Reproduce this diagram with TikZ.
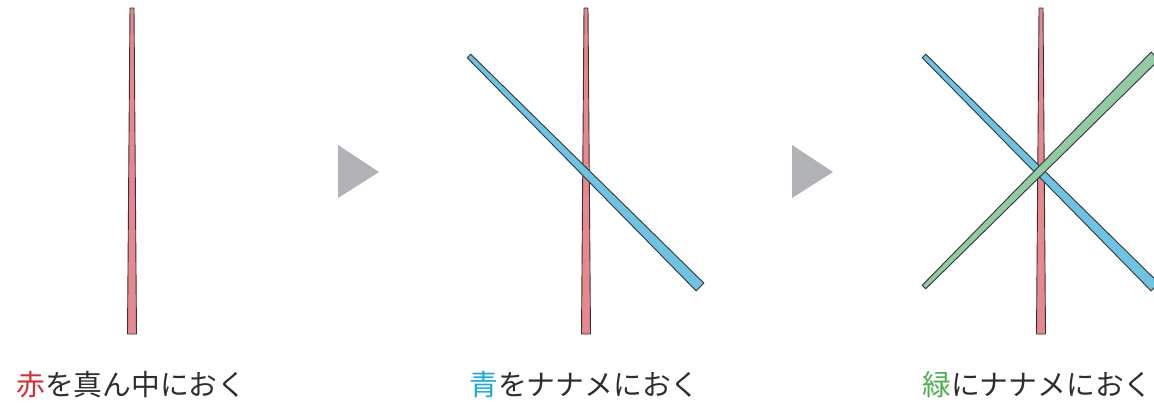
\documentclass[tikz,border=0pt]{standalone}
\usepackage{fontspec}
\setmainfont{Noto Sans CJK JP}
\usetikzlibrary{calc}
\definecolor{stickred}{HTML}{E8878E}
\definecolor{stickblue}{HTML}{6CC4E2}
\definecolor{stickgreen}{HTML}{92CBA3}
\definecolor{markgray}{HTML}{B1B2B6}
\definecolor{textgray}{HTML}{2E2E2E}
\definecolor{wordred}{HTML}{D62E34}
\definecolor{wordblue}{HTML}{1BA9E1}
\definecolor{wordgreen}{HTML}{4DB050}

\begin{document}
\begin{tikzpicture}[x=1pt,y=-1pt,
    stick/.style={draw=black!80,line width=0.9pt},
    nextmark/.style={fill=markgray,draw=none},
    caption/.style={anchor=base west,inner sep=0pt,text=textgray,
      font=\fontsize{28.8}{31}\selectfont}]
  \useasboundingbox (0,0) rectangle (1154,405);
  \clip (0,0) rectangle (1154,405);

  % ends of the sticks
  \coordinate (redtopA) at (132,8);   \coordinate (redbotA) at (132,334);
  \coordinate (redtopB) at (586,8);   \coordinate (redbotB) at (586,334);
  \coordinate (redtopC) at (1041,8);  \coordinate (redbotC) at (1041,334);
  \coordinate (bluetopB) at (469,56); \coordinate (bluebotB) at (700,287);
  \coordinate (bluetopC) at (924,56); \coordinate (bluebotC) at (1155,287);
  \coordinate (greenbotC) at (924,287); \coordinate (greentopC) at (1155,56);

  % first: red
  \draw[stick,fill=stickred] ($(redtopA)+(-2,0)$) -- ($(redtopA)+(2,0)$)
    -- ($(redbotA)+(4.5,0)$) -- ($(redbotA)+(-4.5,0)$) -- cycle;
  \path[nextmark] (338,145) -- (379,172) -- (338,198) -- cycle;
  \node[caption] (capA) at (16,395) {{\color{wordred}赤}を真ん中におく};

  % second: red + blue
  \draw[stick,fill=stickred] ($(redtopB)+(-2,0)$) -- ($(redtopB)+(2,0)$)
    -- ($(redbotB)+(4.5,0)$) -- ($(redbotB)+(-4.5,0)$) -- cycle;
  \draw[stick,fill=stickblue] ($(bluetopB)!2.5pt!90:(bluebotB)$) -- ($(bluetopB)!2.5pt!-90:(bluebotB)$)
    -- ($(bluebotB)!5.5pt!90:(bluetopB)$) -- ($(bluebotB)!5.5pt!-90:(bluetopB)$) -- cycle;
  \path[nextmark] (792,145) -- (833,172) -- (792,198) -- cycle;
  \node[caption] (capB) at (469,395) {{\color{wordblue}青}をナナメにおく};

  % third: red + blue + green
  \draw[stick,fill=stickred] ($(redtopC)+(-2,0)$) -- ($(redtopC)+(2,0)$)
    -- ($(redbotC)+(4.5,0)$) -- ($(redbotC)+(-4.5,0)$) -- cycle;
  \draw[stick,fill=stickblue] ($(bluetopC)!2.5pt!90:(bluebotC)$) -- ($(bluetopC)!2.5pt!-90:(bluebotC)$)
    -- ($(bluebotC)!5.5pt!90:(bluetopC)$) -- ($(bluebotC)!5.5pt!-90:(bluetopC)$) -- cycle;
  \draw[stick,fill=stickgreen] ($(greenbotC)!2.5pt!90:(greentopC)$) -- ($(greenbotC)!2.5pt!-90:(greentopC)$)
    -- ($(greentopC)!5.5pt!90:(greenbotC)$) -- ($(greentopC)!5.5pt!-90:(greenbotC)$) -- cycle;
  \node[caption] (capC) at (922,395) {{\color{wordgreen}緑}にナナメにおく};
\end{tikzpicture}
\end{document}
